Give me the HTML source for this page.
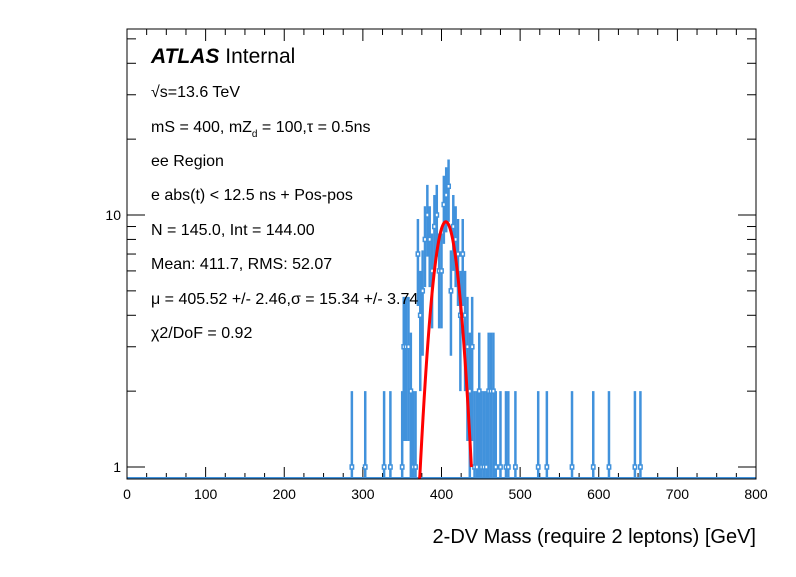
<!DOCTYPE html>
<html><head><meta charset="utf-8"><style>
body{margin:0;background:#fff}
svg text{font-family:"Liberation Sans",sans-serif}
</style></head><body>
<svg id="c" width="796" height="572" xmlns="http://www.w3.org/2000/svg">
<rect width="796" height="572" fill="#fff"/>
<g id="ticks"></g>
<g id="hist"></g>
<g id="fit"></g>
<rect x="127" y="29" width="629" height="450" fill="none" stroke="#000" stroke-width="1"/>
<g font-size="16" fill="#000">
<text x="151" y="63" font-size="21"><tspan font-weight="bold" font-style="italic">ATLAS</tspan> Internal</text>
<text x="151" y="97">√s=13.6 TeV</text>
<text x="151" y="132">mS = 400, mZ<tspan font-size="10" dy="5">d</tspan><tspan dy="-5"> = 100,τ = 0.5ns</tspan></text>
<text x="151" y="166">ee Region</text>
<text x="151" y="200">e abs(t) &lt; 12.5 ns + Pos-pos</text>
<text x="151" y="235">N = 145.0, Int  = 144.00</text>
<text x="151" y="269">Mean: 411.7, RMS: 52.07</text>
<text x="151" y="304">μ = 405.52 +/- 2.46,σ = 15.34 +/- 3.74</text>
<text x="151" y="338">χ2/DoF = 0.92</text>
</g>
<text x="756" y="543" font-size="20" text-anchor="end">2-DV Mass (require 2 leptons) [GeV]</text>
</svg>
<script>
const centers=[286,303,327,335,350,352,355,358,361,364,367,370,373,376,379,382,385,388,391,394,397,400,403,406,409,412,415,418,421,424,427,430,433,436,439,442,445,448,451,454,457,460,463,466,469,475,482,485,494,523,534,566,593,613,646,653];
const counts=[1,1,1,1,1,3,3,3,2,1,1,7,4,5,8,10,8,6,9,10,6,6,11,12,13,5,9,8,7,4,7,4,3,2,3,1,1,2,1,1,1,2,2,2,1,1,1,1,1,1,1,1,1,1,1,1];
const xTicks=[0,100,200,300,400,500,600,700,800];
const yTicks=[1,10];
const fitMu=405.52, fitSigma=15.34, fitAmp=9.4, fitRange=[372,438];
const binW=3;
const NS="http://www.w3.org/2000/svg";
const X0=127,X1=756,Y0=29,Y1=479;
const xs=v=>X0+(v/800)*(X1-X0);
const ys=v=>467-252*Math.log10(v);
const yc=v=>Math.min(Y1,Math.max(Y0,v>0?ys(v):Y1));
function mk(tag,a,p){const e=document.createElementNS(NS,tag);for(const k in a)e.setAttribute(k,a[k]);p.appendChild(e);return e;}
const T=document.getElementById('ticks');
for(let v=0;v<=800;v+=25){const maj=v%100===0;const L=maj?12:6;
 const t=mk('line',{x1:xs(v),x2:xs(v),y1:Y1,y2:Y1-L,stroke:'#000'},T);
 
 
 const t2=mk('line',{x1:xs(v),x2:xs(v),y1:Y0,y2:Y0+L,stroke:'#000'},T);
 
 }
xTicks.forEach(v=>{const t=mk('text',{x:xs(v),y:499,'font-size':14,'text-anchor':'middle'},T);t.textContent=v;
 
 });
for(let d=1;d<=10;d*=10)for(let m=1;m<=9;m++){const v=d*m;const y=ys(v);if(y<Y0||y>Y1)continue;const L=m===1?18:9;
 const a=mk('line',{x1:X0,x2:X0+L,y1:y,y2:y,stroke:'#000'},T);
 
 
 const b=mk('line',{x1:X1,x2:X1-L,y1:y,y2:y,stroke:'#000'},T);
 
 }
yTicks.forEach(v=>{const t=mk('text',{x:X0-6,y:ys(v)+5,'font-size':14,'text-anchor':'end'},T);t.textContent=v;
 
 });
const H=document.getElementById('hist');const col='#4192dc';
const base=mk('line',{x1:X0,x2:X1,y1:Y1-1,y2:Y1-1,stroke:col,'stroke-width':2},H);


centers.forEach((c,i)=>{const n=counts[i];const e=Math.sqrt(n);const x=xs(c);
 const g=mk('g',{},H);
 
 
 mk('line',{x1:x,x2:x,y1:yc(n+e),y2:yc(n-e),stroke:col,'stroke-width':2.5},g);
 const w=(binW/800)*(X1-X0);
 mk('rect',{x:x-w/2-0.5,y:ys(n)-2,width:w+1,height:4,fill:'#fff',stroke:col,'stroke-width':1.5},g);});
const F=document.getElementById('fit');let d='';
for(let m=fitRange[0];m<=fitRange[1];m+=0.5){const v=fitAmp*Math.exp(-0.5*((m-fitMu)/fitSigma)**2);d+=(d?'L':'M')+xs(m).toFixed(2)+','+yc(v).toFixed(2);}
const p=mk('path',{d:d,fill:'none',stroke:'#ff0000','stroke-width':3},F);


</script>
</body></html>
